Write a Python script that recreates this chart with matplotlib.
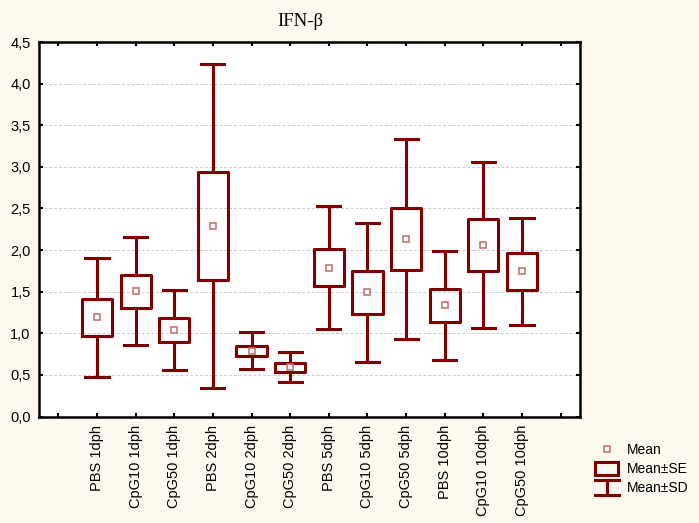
import matplotlib
matplotlib.use('Agg')
import matplotlib.pyplot as plt
from matplotlib.lines import Line2D
from matplotlib.patches import Rectangle
from matplotlib.ticker import FuncFormatter

# Mean, SE and SD
GROUPS = ['PBS 1dph', 'CpG10 1dph', 'CpG50 1dph', 'PBS 2dph', 'CpG10 2dph', 'CpG50 2dph',
          'PBS 5dph', 'CpG10 5dph', 'CpG50 5dph', 'PBS 10dph', 'CpG10 10dph', 'CpG50 10dph']
MEANS = [1.19, 1.505, 1.04, 2.29, 0.79, 0.59, 1.79, 1.49, 2.135, 1.335, 2.06, 1.745]
SE = [0.22, 0.20, 0.14, 0.645, 0.06, 0.05, 0.22, 0.255, 0.37, 0.195, 0.31, 0.22]
SD = [0.72, 0.65, 0.48, 1.95, 0.22, 0.18, 0.735, 0.835, 1.20, 0.655, 1.00, 0.645]

DARK_RED = '#800000'
MEAN_COL = '#c06a6a'
BG = '#fef9ee'

plt.rcParams['font.family'] = ['Liberation Sans', 'DejaVu Sans']

fig = plt.figure(figsize=(6.99, 5.23), dpi=100, facecolor=BG)
ax = fig.add_axes([39 / 699, 1 - 416.5 / 523, (580 - 39) / 699, (416.5 - 42) / 523])
ax.set_facecolor('white')

stats = []
for g, m, se, sd in zip(GROUPS, MEANS, SE, SD):
    stats.append(dict(label=g, mean=m, med=m, q1=m - se, q3=m + se,
                      whislo=m - sd, whishi=m + sd, fliers=[]))

positions = list(range(1, len(GROUPS) + 1))
ax.bxp(stats, positions=positions, widths=0.78, capwidths=0.6,
       showmeans=True, showfliers=False,
       boxprops=dict(color=DARK_RED, linewidth=2.2),
       whiskerprops=dict(color=DARK_RED, linewidth=2.2),
       capprops=dict(color=DARK_RED, linewidth=2.2),
       medianprops=dict(linewidth=0, alpha=0),
       meanprops=dict(marker='s', markerfacecolor='white', markeredgecolor=MEAN_COL,
                      markersize=5, markeredgewidth=1.1))

ax.set_xlim(-0.5, 13.5)
ax.set_ylim(0, 4.5)
ax.set_xticks(range(0, 14))
ax.set_xticklabels([''] + GROUPS + [''], rotation=90, fontsize=10.5)
ax.set_yticks([i * 0.5 for i in range(10)])
ax.yaxis.set_major_formatter(FuncFormatter(lambda v, p: f'{v:.1f}'.replace('.', ',')))
ax.tick_params(axis='y', labelsize=10.5, pad=6)
ax.tick_params(direction='in', length=3, width=1.5, top=True, right=True)
ax.tick_params(axis='x', pad=6)
ax.grid(axis='y', linestyle=(0, (3, 2)), color='#cccccc', linewidth=0.7)
ax.set_axisbelow(True)
for s in ax.spines.values():
    s.set_linewidth(1.8)

# legend and title drawn in pixel coordinates of the figure
def fx(x):
    return x / 699

def fy(y):
    return 1 - y / 523

fig.text(fx(300), fy(22), 'IFN-β', fontsize=13.5, family='Liberation Serif',
         ha='center', va='center')

fig.add_artist(Line2D([fx(607)], [fy(449)], marker='s', markerfacecolor='white',
                      markeredgecolor=MEAN_COL, markersize=5, markeredgewidth=1.1,
                      linestyle='none', transform=fig.transFigure))
fig.add_artist(Rectangle((fx(595), fy(475)), fx(618) - fx(595), fy(462) - fy(475),
                         facecolor='none', edgecolor=DARK_RED, linewidth=2.2,
                         transform=fig.transFigure))
for xs, ys in [([fx(607), fx(607)], [fy(480), fy(495)]),
               ([fx(595), fx(619)], [fy(480), fy(480)]),
               ([fx(595), fx(619)], [fy(495), fy(495)])]:
    fig.add_artist(Line2D(xs, ys, color=DARK_RED, linewidth=2.2, transform=fig.transFigure))

for label, y in [('Mean', 450), ('Mean±SE', 469), ('Mean±SD', 488)]:
    fig.text(fx(627), fy(y), label, fontsize=10, va='center', ha='left')

fig.savefig('out.png', dpi=100, facecolor=BG)
